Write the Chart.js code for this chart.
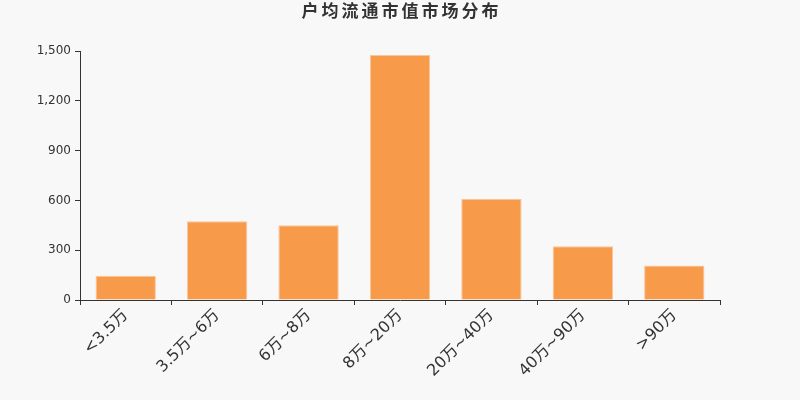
<!DOCTYPE html>
<html>
<head>
<meta charset="utf-8">
<script src="https://cdn.jsdelivr.net/npm/chart.js@4"></script>
<style>
    html, body { margin: 0; padding: 0; background: #f8f8f8; }
    #wrap { width: 800px; height: 400px; }
</style>
</head>
<body>
<div id="wrap"><canvas id="chart" width="800" height="400"></canvas></div>
<script>
const titleText = '户均流通市值市场分布'
const categories = ['<3.5万', '3.5万~6万', '6万~8万', '8万~20万', '20万~40万', '40万~90万', '>90万']
const holderCounts = [146, 474, 450, 1476, 610, 324, 208]
const yTicks = [0, 300, 600, 900, 1200, 1500]

const fontFamily = '"DejaVu Sans", "Noto Sans CJK SC", sans-serif'

// title centred on the whole canvas, with spaced-out characters
const spacedTitle = {
    id: 'spacedTitle',
    afterDraw(chart) {
        const c = chart.ctx
        const spacing = 3
        c.save()
        c.font = 'bold 17px ' + fontFamily
        c.fillStyle = '#333'
        c.textBaseline = 'middle'
        const chars = Array.from(titleText)
        const widths = chars.map(ch => c.measureText(ch).width)
        const total = widths.reduce((a, b) => a + b, 0) + spacing * (chars.length - 1)
        let x = chart.width / 2 - total / 2
        chars.forEach((ch, i) => {
            c.fillText(ch, x, 13)
            x += widths[i] + spacing
        })
        c.restore()
    }
}

const ctx = document.getElementById('chart')
const chart = new Chart(ctx, {
    type: 'bar',
    data: {
        labels: categories,
        datasets: [
            {
                label: '户数',
                data: holderCounts,
                backgroundColor: '#f79a4a',
                borderColor: '#fbc59a',
                borderWidth: 1,
                categoryPercentage: 0.66,
                barPercentage: 1
            }
        ]
    },
    options: {
        responsive: false,
        animation: false,
        devicePixelRatio: 1,
        layout: {
            padding: { left: 0, right: 80, top: 51, bottom: 0 }
        },
        plugins: {
            legend: { display: false },
            tooltip: { enabled: false },
            title: { display: false }
        },
        scales: {
            y: {
                min: 0,
                max: 1500,
                afterBuildTicks: (scale) => {
                    scale.ticks = yTicks.map(v => ({ value: v }))
                },
                afterFit: (scale) => { scale.width = 80 },
                border: { display: true, color: '#333', width: 1 },
                grid: { drawOnChartArea: false, drawTicks: true, tickLength: 5, color: '#333' },
                ticks: {
                    color: '#333',
                    padding: 4,
                    font: { family: fontFamily, size: 12 },
                    callback: function (value) {
                        return value.toLocaleString('en-US')
                    }
                }
            },
            x: {
                offset: true,
                afterFit: (scale) => { scale.height = 100 },
                border: { display: true, color: '#333', width: 1 },
                grid: { offset: true, drawOnChartArea: false, drawTicks: true, tickLength: 5, color: '#333' },
                ticks: {
                    color: '#333',
                    maxRotation: 45,
                    minRotation: 45,
                    autoSkip: false,
                    padding: 1,
                    font: { family: fontFamily, size: 16 }
                }
            }
        }
    },
    plugins: [spacedTitle]
});
</script>
</body>
</html>
